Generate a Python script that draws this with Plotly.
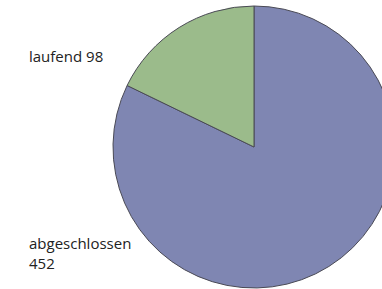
import plotly.graph_objects as go

labels = ["abgeschlossen", "laufend"]
values = [452, 98]
colors = ["#7f86b2", "#9bbb8b"]

W, H = 400, 290
cx, cy, r = 254, 147, 141

fig = go.Figure(go.Pie(
    labels=labels,
    values=values,
    sort=False,
    direction="counterclockwise",
    rotation=0,
    marker=dict(colors=colors, line=dict(color="#4a4a55", width=1)),
    textinfo="none",
    hoverinfo="label+value",
    showlegend=False,
    domain=dict(x=[(cx - r) / W, (cx + r) / W], y=[1 - (cy + r) / H, 1 - (cy - r) / H]),
))

label_pos = [(27, 253, "<br>"), (27, 56, " ")]
for (lab, val), (px, py, sep) in zip(zip(labels, values), label_pos):
    fig.add_annotation(
        x=px / W, y=1 - py / H, xref="paper", yref="paper",
        xanchor="left", yanchor="middle", align="left",
        text=f"{lab}{sep}{val}", showarrow=False,
        font=dict(family="Open Sans", size=15, color="#222222"),
    )

fig.update_layout(
    width=W, height=H, autosize=False,
    margin=dict(l=0, r=0, t=0, b=0),
    paper_bgcolor="white", plot_bgcolor="white",
)

fig.write_html(
    "out.html",
    config={"displayModeBar": False},
    post_script="document.body.style.margin='0';document.body.style.overflow='hidden';",
)
